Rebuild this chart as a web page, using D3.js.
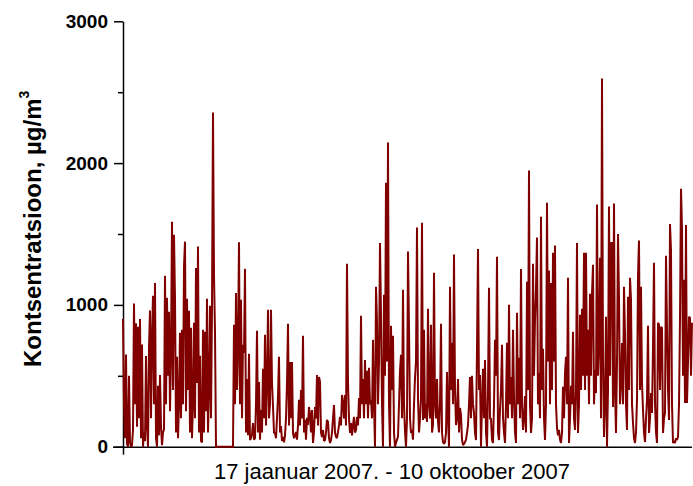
<!DOCTYPE html>
<html>
<head>
<meta charset="utf-8">
<script src="https://cdn.jsdelivr.net/npm/d3@7"></script>
<style>
  body { margin: 0; background: #fff; }
  svg { display: block; }
</style>
</head>
<body>
<svg id="chart" width="693" height="486"></svg>
<script>
// Measurement period
const startDate = new Date(2007, 0, 17);
const endDate = new Date(2007, 9, 10);

// Concentration series (µg/m³), evenly spaced over the period
const concentration = [
  900,300,60,650,20,0,500,30,0,10,
  120,1010,300,870,140,845,200,900,60,720,
  0,100,40,640,150,0,700,960,200,770,
  1065,300,1155,60,0,430,80,506,150,10,
  100,120,1206,300,1050,500,951,250,660,1586,
  400,1494,1050,100,634,60,300,803,200,824,
  300,1270,1446,250,1043,400,959,100,838,60,
  300,874,200,1260,450,1411,100,641,40,30,
  824,100,810,250,1043,100,400,994,200,989,
  2357,1213,803,0,0,0,0,0,0,0,
  0,0,0,0,0,0,0,0,0,0,
  0,860,300,1084,400,700,1441,300,1036,200,
  719,662,1254,100,478,80,655,47,60,90,
  167,50,60,300,817,100,457,50,259,100,
  549,200,789,150,450,966,200,300,966,450,
  286,100,97,60,200,350,634,100,146,40,
  69,30,80,200,450,867,150,598,200,598,
  97,60,80,104,50,150,330,150,400,200,
  782,100,189,50,203,153,280,224,100,259,
  26,100,280,200,506,150,492,457,100,69,
  118,40,47,100,189,175,60,26,47,100,
  200,294,100,69,60,104,150,210,150,365,
  309,200,365,150,1290,450,200,97,167,80,
  150,210,100,118,210,150,344,200,923,300,
  478,200,612,300,535,200,556,300,330,200,
  754,300,0,1128,881,300,600,1437,930,300,
  0,1072,500,1862,600,2145,300,0,853,400,
  782,100,0,26,50,69,300,535,648,200,
  1107,300,104,0,200,1376,845,200,97,118,
  50,300,485,600,1545,344,100,200,344,1579,
  189,824,200,300,175,973,300,200,860,100,
  153,1227,300,200,478,175,100,300,867,100,
  33,20,33,100,527,200,0,1128,400,733,
  300,1355,400,153,200,478,100,273,224,50,
  12,20,33,50,97,153,300,492,200,500,
  300,238,100,47,697,1395,400,506,0,300,
  549,200,612,100,0,400,1121,200,196,50,
  26,300,754,500,1340,100,47,266,400,719,
  203,100,26,300,733,200,1001,300,492,200,
  824,351,100,26,944,300,627,200,1254,300,
  118,200,358,100,1163,400,1948,300,97,200,
  1290,500,895,1121,1475,300,520,200,1621,400,
  690,200,47,300,1720,600,1242,300,1155,400,
  1368,600,1418,300,132,80,118,50,26,100,
  422,200,520,634,300,1192,26,200,429,300,
  810,200,118,400,1437,97,300,930,400,973,
  500,1368,400,1368,500,824,300,1079,500,1079,
  1283,300,541,378,1708,500,731,1333,200,2596,
  612,69,300,916,0,400,1694,500,1437,1437,
  280,1715,400,97,600,1500,1050,300,450,731,
  300,1128,782,300,118,1058,400,1192,1036,300,
  167,60,26,100,330,1206,1454,400,1128,450,
  259,100,33,200,330,853,97,200,378,238,
  700,1298,309,100,26,874,860,400,845,838,
  97,200,238,1347,845,400,189,1570,1383,300,
  26,40,26,60,47,69,300,900,1819,1540,
  500,1178,309,1564,309,600,916,909,500,874
];

const yMajorTicks = [0, 1000, 2000, 3000];
const yMinorTicks = [500, 1500, 2500];
const xTitle = "17 jaanuar 2007. - 10 oktoober 2007";
const yTitle = "Kontsentratsioon, µg/m";
const yTitleUnitPower = "3";

const FONT = "'Liberation Sans', Arial, Helvetica, sans-serif";
const LINE_COLOR = "#800000";

const svg = d3.select("#chart");
const plotLeft = 123, plotRight = 692, plotTop = 21.3, plotBottom = 446.7;

const x = d3.scaleTime().domain([startDate, endDate]).range([plotLeft, plotRight]);
const y = d3.scaleLinear().domain([0, 3000]).range([plotBottom, plotTop]);

const stepMs = (endDate - startDate) / (concentration.length - 1);
const series = concentration.map((v, i) => ({ t: new Date(+startDate + i * stepMs), v }));

// X axis: plain baseline with a single tick at the origin
const xAxis = svg.append("g")
  .attr("transform", `translate(0,${plotBottom})`)
  .call(d3.axisBottom(x).tickValues([startDate]).tickSize(8).tickSizeOuter(0).tickFormat(""));
xAxis.select(".domain").attr("d", `M${plotLeft - 10},0.5H${plotRight}`);

// Y axis: labelled major ticks, short minor ticks
const yAxis = svg.append("g")
  .attr("transform", `translate(${plotLeft},0)`)
  .call(d3.axisLeft(y).tickValues(yMajorTicks).tickFormat(d3.format("d"))
    .tickSize(9).tickPadding(6).tickSizeOuter(0));
yAxis.selectAll(".tick text")
  .attr("font-family", FONT)
  .attr("font-size", 19)
  .attr("font-weight", "bold")
  .attr("fill", "#000");
svg.append("g")
  .attr("transform", `translate(${plotLeft},0)`)
  .call(d3.axisLeft(y).tickValues(yMinorTicks).tickSize(5).tickFormat("").tickSizeOuter(0))
  .select(".domain").remove();

svg.selectAll(".domain, .tick line")
  .attr("stroke", "#000")
  .attr("stroke-width", 1.5);

// Concentration trace
svg.append("path")
  .datum(series)
  .attr("fill", "none")
  .attr("stroke", LINE_COLOR)
  .attr("stroke-width", 2)
  .attr("stroke-linejoin", "miter")
  .attr("stroke-miterlimit", 2)
  .attr("d", d3.line().x(d => x(d.t)).y(d => y(d.v)));

// Axis titles
svg.append("text")
  .attr("x", 392)
  .attr("y", 479)
  .attr("text-anchor", "middle")
  .attr("font-family", FONT)
  .attr("font-size", 22)
  .attr("fill", "#000")
  .text(xTitle);

const yt = svg.append("text")
  .attr("transform", "translate(41,367) rotate(-90)")
  .attr("text-anchor", "start")
  .attr("font-family", FONT)
  .attr("font-size", 24)
  .attr("font-weight", "bold")
  .attr("fill", "#000");
yt.append("tspan").text(yTitle);
yt.append("tspan")
  .attr("font-size", 14)
  .attr("dy", -12)
  .text(yTitleUnitPower);
</script>
</body>
</html>
